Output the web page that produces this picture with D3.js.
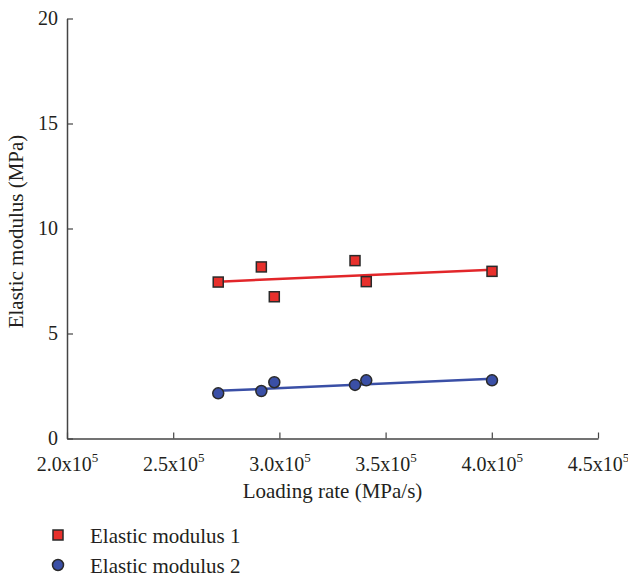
<!DOCTYPE html>
<html><head><meta charset="utf-8">
<script src="https://cdn.jsdelivr.net/npm/d3@7"></script>
<style>body{margin:0;background:#fff}svg{display:block}text{font-family:"Liberation Serif","DejaVu Serif",serif}</style>
</head><body>
<script>
const xTicks = [2.0e5, 2.5e5, 3.0e5, 3.5e5, 4.0e5, 4.5e5];
const xTickLabels = ["2.0", "2.5", "3.0", "3.5", "4.0", "4.5"];
const yTicks = [0, 5, 10, 15, 20];
const loadingRate = [2.712e5, 2.915e5, 2.976e5, 3.356e5, 3.409e5, 4.001e5];
const modulus1 = [7.45, 8.17, 6.75, 8.47, 7.47, 7.96];
const modulus2 = [2.15, 2.26, 2.68, 2.55, 2.77, 2.77];
const fitX = [2.712e5, 4.001e5];
const fit1 = [7.47, 8.03];
const fit2 = [2.27, 2.85];
const seriesNames = ["Elastic modulus 1", "Elastic modulus 2"];

const W = 628, H = 577;
const svg = d3.select("body").append("svg").attr("width", W).attr("height", H);
const x = d3.scaleLinear().domain([2.0e5, 4.5e5]).range([67, 598]);
const y = d3.scaleLinear().domain([0, 20]).range([438.5, 18.5]);
const axisColor = "#444";
const txt = "#231f20";

// Y axis
const yAxis = svg.append("g").attr("transform", `translate(${x(2.0e5)},0)`)
  .call(d3.axisLeft(y).tickValues(yTicks).tickSizeInner(-6).tickSizeOuter(0).tickPadding(9));
yAxis.select(".domain").attr("stroke", axisColor).attr("stroke-width", 1.5);
yAxis.selectAll(".tick line").attr("stroke", axisColor).attr("stroke-width", 1.2);
yAxis.selectAll(".tick text").attr("font-size", 20).attr("fill", txt).attr("font-family", null);

// X axis
const xAxis = svg.append("g").attr("transform", `translate(0,${y(0)})`)
  .call(d3.axisBottom(x).tickValues(xTicks).tickSizeInner(-6).tickSizeOuter(0).tickFormat(() => ""));
xAxis.select(".domain").attr("stroke", axisColor).attr("stroke-width", 1.5);
xAxis.selectAll(".tick line").attr("stroke", axisColor).attr("stroke-width", 1.2);
xAxis.selectAll(".tick text").remove();
xAxis.selectAll(".tick").append("text")
  .attr("y", 32).attr("text-anchor", "middle")
  .attr("font-size", 20).attr("fill", txt)
  .each(function(d, i) {
    const t = d3.select(this);
    t.append("tspan").text(xTickLabels[i] + "x10");
    t.append("tspan").attr("dy", -9).attr("font-size", 13).text("5");
  });
xAxis.attr("font-family", null);

// Axis titles
svg.append("text").attr("x", x(3.25e5)).attr("y", 498).attr("text-anchor", "middle")
  .attr("font-size", 21).attr("fill", txt).text("Loading rate (MPa/s)");
svg.append("text").attr("transform", `translate(23,${y(10) + 3}) rotate(-90)`).attr("text-anchor", "middle")
  .attr("font-size", 21).attr("fill", txt).text("Elastic modulus (MPa)");

// Fit lines
const line = d3.line().x(d => x(d[0])).y(d => y(d[1]));
svg.append("path").datum(fitX.map((v, i) => [v, fit1[i]])).attr("d", line)
  .attr("stroke", "#e2262a").attr("stroke-width", 2.5).attr("fill", "none");
svg.append("path").datum(fitX.map((v, i) => [v, fit2[i]])).attr("d", line)
  .attr("stroke", "#3a4fa6").attr("stroke-width", 2.5).attr("fill", "none");

const red = "#e8302c", blue = "#3a4fa6", edge = "#2a2a2a";
const s = 10;
svg.append("g").selectAll("rect").data(loadingRate.map((v, i) => [v, modulus1[i]])).join("rect")
  .attr("x", d => x(d[0]) - s / 2).attr("y", d => y(d[1]) - s / 2).attr("width", s).attr("height", s)
  .attr("fill", red).attr("stroke", edge).attr("stroke-width", 1.5);
svg.append("g").selectAll("circle").data(loadingRate.map((v, i) => [v, modulus2[i]])).join("circle")
  .attr("cx", d => x(d[0])).attr("cy", d => y(d[1])).attr("r", 5.5)
  .attr("fill", blue).attr("stroke", edge).attr("stroke-width", 1.5);

// Legend
const lg = svg.append("g");
lg.append("rect").attr("x", 53).attr("y", 530).attr("width", 10).attr("height", 10)
  .attr("fill", red).attr("stroke", edge).attr("stroke-width", 1.5);
lg.append("circle").attr("cx", 58).attr("cy", 565).attr("r", 5.5)
  .attr("fill", blue).attr("stroke", edge).attr("stroke-width", 1.5);
lg.selectAll("text").data(seriesNames).join("text")
  .attr("x", 90).attr("y", (d, i) => 543 + i * 30)
  .attr("font-size", 21).attr("fill", txt).text(d => d);
</script>
</body></html>
